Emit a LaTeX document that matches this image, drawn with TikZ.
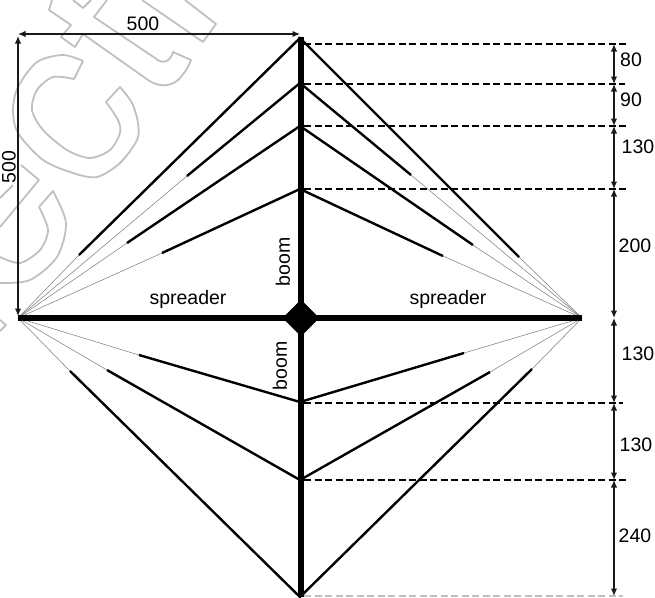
\documentclass[tikz,border=0pt]{standalone}
\usepackage{fontspec}
\setmainfont{Liberation Sans}
\usepackage{tikz}
\usetikzlibrary{arrows.meta}
\usetikzlibrary{shapes.geometric}
\definecolor{stamp}{RGB}{192, 192, 192}
\tikzset{
    spar/.style={line width=5.5pt},
    stayline/.style={line width=2.4pt},
    thread/.style={gray, line width=0.55pt},
    levelline/.style={black!85, line width=1.05pt, dash pattern=on 7pt off 3.5pt},
    dimline/.style={{Latex[length=7.5pt,width=6.5pt]}-{Latex[length=7.5pt,width=6.5pt]}, line width=1.3pt, black!90},
    stampline/.style={stamp, line width=1.8pt, line join=round},
    dimtext/.style={font=\fontsize{19.5}{21}\selectfont, inner sep=0pt}
}
\begin{document}
\begin{tikzpicture}[x=1pt, y=-1pt]
            \useasboundingbox (0, 0) rectangle (655, 597);
            % Stamp behind the drawing
            \draw[stampline] plot[smooth] coordinates {(83,61) (63,55) (37,62) (18,87) (13,110) (18,133) (43,160) (73,173) (97,177) (120,163) (137,140) (138,123) (132,103) (120,87)}
                 -- (106,102)
                 plot[smooth] coordinates {(106,102) (118,120) (120,133) (110,150) (90,158) (67,150) (43,130) (32,110) (37,90) (53,77) (74,79)}
                 -- (83,61);
            \draw[stampline] (52,0) -- (49,10) -- (71,25) -- (61,37) -- (75,47) -- (83,34) -- (148,80)
                 .. controls (158,87) and (170,87) .. (178,80) .. controls (184,74) and (188,68) .. (191,60)
                 -- (173,52) .. controls (171,60) and (164,66) .. (155,58) -- (94,17) -- (107,0);
            \draw[stampline] (73,0) -- (83,8) -- (91,0);
            \draw[stampline] (142,0) -- (203,42) -- (216,24) -- (185,0);
            \draw[stampline] (21,165) -- (39,180) -- (0,227);
            \draw[stampline] (13,185) -- (0,198);
            \draw[stampline] plot[smooth] coordinates {(0,283) (30,280) (57,257) (66,223) (53,191)}
                 -- (39,207)
                 plot[smooth] coordinates {(39,207) (48,230) (40,250) (20,263) (0,257)};
            \draw[stampline] (0,320) -- (6,325) -- (0,331);
            % Frame points
            \coordinate (tipL)  at ( 18, 318);
            \coordinate (tipR)  at (582, 318);
            \coordinate (hub)   at (301, 318);
            \coordinate (boomT) at (301,  37);
            \coordinate (boomB) at (301, 597);
            % Thin threads and thick stays
            \foreach \name/\yy/\lx/\ly/\rx/\ry in {
                    a/38/79/255/519/257,
                    b/83/187/176/411/175,
                    c/126/127/243/473/245,
                    d/189/162/253/443/256,
                    e/402/139/355/464/353,
                    f/480/107/370/490/372,
                    g/597/70/371/532/369}{
                \coordinate (top\name) at (300, \yy);
                \coordinate (endL\name) at (\lx, \ly);
                \coordinate (endR\name) at (\rx, \ry);
                \draw[thread] (tipL) -- (endL\name);
                \draw[thread] (tipR) -- (endR\name);
                \draw[stayline] (endL\name) -- (top\name) -- (endR\name);
            }
            % Boom and spreader
            \draw[spar] (boomT) -- (boomB);
            \draw[spar] (tipL) -- (tipR);
            \node[diamond, fill=black, minimum size=37pt, inner sep=0pt] (joint) at (hub) {};
            % Levels on the right
            \foreach \name/\yy/\xx/\shade in {
                    p/44/628/black,
                    q/84/625/black,
                    r/126/626/black,
                    s/189/628/black,
                    t/403/623/black,
                    u/480/626/black,
                    v/596/623/stamp}{
                \coordinate (from\name) at (304, \yy);
                \coordinate (to\name) at (\xx, \yy);
                \coordinate (dim\name) at (614, \yy);
                \draw[levelline, \shade] (from\name) -- (to\name);
            }
            \coordinate (dimo) at (614, 318);
            % Dimensions
            \foreach \from/\to in {p/q, q/r, r/s, s/o, o/t, t/u, u/v}{
                \draw[dimline] (dim\from) -- (dim\to);
            }
            \coordinate (cornerT) at ( 18,  34);
            \coordinate (cornerR) at (300,  34);
            \coordinate (cornerL) at ( 18,  36);
            \coordinate (cornerB) at ( 18, 316);
            \draw[dimline] (cornerT) -- (cornerR);
            \draw[dimline] (cornerL) -- (cornerB);
            % Labels
            \node[dimtext]            (spanW)  at (143,  24) {500};
            \node[dimtext, rotate=90] (spanH)  at (  9, 167) {500};
            \node[dimtext, rotate=90] (boomU)  at (283, 262) {boom};
            \node[dimtext, rotate=90] (boomD)  at (280, 366) {boom};
            \node[dimtext]            (sprL)   at (188, 299) {spreader};
            \node[dimtext]            (sprR)   at (448, 299) {spreader};
            \node[dimtext]            (gapA)   at (631,  60) {80};
            \node[dimtext]            (gapB)   at (631, 100) {90};
            \node[dimtext]            (gapC)   at (638, 147) {130};
            \node[dimtext]            (gapD)   at (635, 246) {200};
            \node[dimtext]            (gapE)   at (638, 354) {130};
            \node[dimtext]            (gapF)   at (636, 445) {130};
            \node[dimtext]            (gapG)   at (635, 536) {240};
        \end{tikzpicture}
\end{document}
